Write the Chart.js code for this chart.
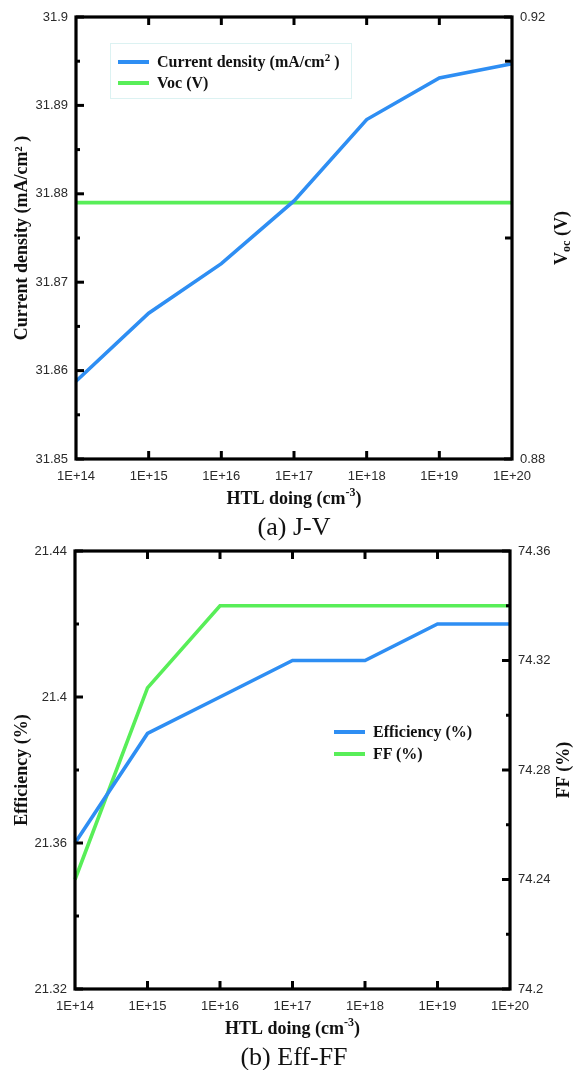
<!DOCTYPE html>
<html>
<head>
<meta charset="utf-8">
<script src="https://cdn.jsdelivr.net/npm/chart.js"></script>
<style>
  body { margin: 0; background: #fff; }
  #page { position: relative; width: 583px; height: 1070px; overflow: hidden; }
  canvas { position: absolute; left: 0; }
  .caption { position: absolute; width: 588px; text-align: center; font: 26px "Liberation Serif", serif; line-height: 30px; color: #111; }
  .legend { position: absolute; font: bold 16px "Liberation Serif", serif; color: #111; }
  .legend .row { position: absolute; left: 0; white-space: nowrap; height: 20px; line-height: 20px; }
  .legend .swatch { position: absolute; left: 0; top: 8px; width: 31px; height: 4px; }
  .legend .txt { position: absolute; left: 39px; top: 0; }
  .legend sup { font-size: 11px; line-height: 0; }
</style>
</head>
<body>
<div id="page">
  <canvas id="jvChart" style="top:0"></canvas>
  <div class="caption" style="top:512px; left:0">(a) J-V</div>
  <canvas id="effChart" style="top:530px"></canvas>
  <div class="caption" style="top:1042px; left:0">(b) Eff-FF</div>
  <div id="jvLegend" class="legend" style="left:110px; top:43px; width:242px; height:56px; border:1px solid #dcf2f2; box-sizing:border-box"></div>
  <div id="effLegend" class="legend" style="left:334px; top:722px; width:170px; height:50px"></div>
</div>
<script>
// x categories (HTL doping)
const dopingLabels = ['1E+14', '1E+15', '1E+16', '1E+17', '1E+18', '1E+19', '1E+20'];

// (a) J-V
const currentDensity = [31.8588, 31.8665, 31.8721, 31.8792, 31.8884, 31.8931, 31.8947];
const vocValues = [0.9032, 0.9032, 0.9032, 0.9032, 0.9032, 0.9032, 0.9032];
const jTickValues = [31.85, 31.855, 31.86, 31.865, 31.87, 31.875, 31.88, 31.885, 31.89, 31.895, 31.9];
const jTickLabels = ['31.85', '', '31.86', '', '31.87', '', '31.88', '', '31.89', '', '31.9'];
const vocTickValues = [0.88, 0.9, 0.916, 0.92];
const vocTickLabels = ['0.88', '', '', '0.92'];

// (b) Eff-FF
const efficiency = [21.36, 21.39, 21.40, 21.41, 21.41, 21.42, 21.42];
const fillFactor = [74.24, 74.31, 74.34, 74.34, 74.34, 74.34, 74.34];
const effTickValues = [21.32, 21.34, 21.36, 21.38, 21.4, 21.42, 21.44];
const effTickLabels = ['21.32', '', '21.36', '', '21.4', '', '21.44'];
const ffTickValues = [74.2, 74.22, 74.24, 74.26, 74.28, 74.3, 74.32, 74.34, 74.36];
const ffTickLabels = ['74.2', '', '74.24', '', '74.28', '', '74.32', '', '74.36'];

const BLUE = '#2e8ef3';
const GREEN = '#58ee58';

Chart.defaults.font.family = '"Liberation Sans", Arial, sans-serif';
Chart.defaults.font.size = 13;
Chart.defaults.color = '#2a2a2a';

// frame, inward ticks and axis titles
const framePlugin = {
  id: 'frame',
  afterDraw(chart, args, opts) {
    const { ctx, chartArea: a, scales } = chart;
    ctx.save();
    ctx.strokeStyle = '#000';
    ctx.lineWidth = 3;
    const line = (x1, y1, x2, y2) => { ctx.beginPath(); ctx.moveTo(x1, y1); ctx.lineTo(x2, y2); ctx.stroke(); };

    const xs = scales.x;
    xs.ticks.forEach((t, i) => {
      if (i === 0 || i === xs.ticks.length - 1) return;
      const px = xs.getPixelForTick(i);
      line(px, a.bottom, px, a.bottom - 8);
      line(px, a.top, px, a.top + 8);
    });
    scales.y.ticks.forEach(t => {
      const py = scales.y.getPixelForValue(t.value);
      line(a.left, py, a.left + (t.label ? 8 : 4), py);
    });
    scales.y1.ticks.forEach(t => {
      const py = scales.y1.getPixelForValue(t.value);
      line(a.right, py, a.right - (t.label ? 8 : opts.rightMinor), py);
    });
    ctx.lineWidth = 3.2;
    ctx.strokeRect(a.left, a.top, a.width, a.height);

    const cy = (a.top + a.bottom) / 2;
    ctx.fillStyle = '#111';
    ctx.textBaseline = 'middle';
    const big = 'bold 18px "Liberation Serif", serif';
    const small = 'bold 12px "Liberation Serif", serif';

    // x title with superscript
    const xt = opts.xTitle;
    ctx.font = big; const w1 = ctx.measureText(xt[0]).width;
    ctx.font = small; const w2 = ctx.measureText(xt[1]).width;
    ctx.font = big; const w3 = ctx.measureText(xt[2]).width;
    const sx = (a.left + a.right) / 2 - (w1 + w2 + w3) / 2;
    const ty = a.bottom + 40;
    ctx.textAlign = 'left';
    ctx.font = big; ctx.fillText(xt[0], sx, ty);
    ctx.font = small; ctx.fillText(xt[1], sx + w1, ty - 6);
    ctx.font = big; ctx.fillText(xt[2], sx + w1 + w2, ty);

    // left title
    ctx.save();
    ctx.translate(22, cy);
    ctx.rotate(-Math.PI / 2);
    ctx.textAlign = 'center';
    ctx.font = big;
    ctx.fillText(opts.leftTitle, 0, 0);
    ctx.restore();

    // right title (with optional subscript), reads bottom to top
    ctx.save();
    ctx.translate(a.right + opts.rightOffset, cy);
    ctx.rotate(-Math.PI / 2);
    ctx.textAlign = 'left';
    const rt = opts.rightTitle;
    ctx.font = big; const r1 = ctx.measureText(rt[0]).width;
    ctx.font = small; const r2 = ctx.measureText(rt[1]).width;
    ctx.font = big; const r3 = ctx.measureText(rt[2]).width;
    const rx = -(r1 + r2 + r3) / 2;
    ctx.font = big; ctx.fillText(rt[0], rx, 0);
    ctx.font = small; ctx.fillText(rt[1], rx + r1, 5);
    ctx.font = big; ctx.fillText(rt[2], rx + r1 + r2, 0);
    ctx.restore();

    ctx.restore();
  }
};

function makeChart(id, h, cfg) {
  const cv = document.getElementById(id);
  cv.width = 583; cv.height = h;
  cv.style.width = '583px'; cv.style.height = h + 'px';
  return new Chart(cv, {
    type: 'line',
    data: {
      labels: dopingLabels,
      datasets: [
        { label: cfg.names[0], data: cfg.left, yAxisID: 'y', borderColor: BLUE, backgroundColor: BLUE, borderWidth: 3.6, pointRadius: 0, tension: 0 },
        { label: cfg.names[1], data: cfg.right, yAxisID: 'y1', borderColor: GREEN, backgroundColor: GREEN, borderWidth: 3.6, pointRadius: 0, tension: 0 }
      ]
    },
    options: {
      responsive: false,
      animation: false,
      layout: { padding: { top: cfg.top, left: 0, right: 0, bottom: 0 } },
      plugins: {
        legend: { display: false },
        tooltip: { enabled: false },
        frame: cfg.frame
      },
      scales: {
        x: {
          type: 'category',
          offset: false,
          grid: { display: false, drawTicks: false },
          border: { display: false },
          ticks: { padding: 10, maxRotation: 0, autoSkip: false },
          afterFit: s => { s.height = cfg.xHeight; }
        },
        y: {
          position: 'left',
          min: cfg.leftTicks[0], max: cfg.leftTicks[cfg.leftTicks.length - 1],
          grid: { display: false, drawTicks: false },
          border: { display: false },
          afterBuildTicks: s => { s.ticks = cfg.leftTicks.map(v => ({ value: v })); },
          ticks: { padding: 8, callback: (v, i) => cfg.leftLabels[i] },
          afterFit: s => { s.width = cfg.leftWidth; }
        },
        y1: {
          position: 'right',
          min: cfg.rightTicks[0], max: cfg.rightTicks[cfg.rightTicks.length - 1],
          grid: { display: false, drawTicks: false },
          border: { display: false },
          afterBuildTicks: s => { s.ticks = cfg.rightTicks.map(v => ({ value: v })); },
          ticks: { padding: 8, callback: (v, i) => cfg.rightLabels[i] },
          afterFit: s => { s.width = cfg.rightWidth; }
        }
      }
    },
    plugins: [framePlugin]
  });
}

const jvChart = makeChart('jvChart', 515, {
  names: ['Current density (mA/cm<sup>2</sup> )', 'Voc (V)'],
  left: currentDensity, right: vocValues,
  leftTicks: jTickValues, leftLabels: jTickLabels,
  rightTicks: vocTickValues, rightLabels: vocTickLabels,
  top: 17, xHeight: 56, leftWidth: 76, rightWidth: 71,
  frame: { xTitle: ['HTL doing (cm', '-3', ')'], leftTitle: 'Current density (mA/cm\u00B2 )', rightTitle: ['V', 'oc', ' (V)'], rightOffset: 50, rightMinor: 7 }
});

const effChart = makeChart('effChart', 520, {
  names: ['Efficiency (%)', 'FF (%)'],
  left: efficiency, right: fillFactor,
  leftTicks: effTickValues, leftLabels: effTickLabels,
  rightTicks: ffTickValues, rightLabels: ffTickLabels,
  top: 21, xHeight: 61, leftWidth: 75, rightWidth: 73,
  frame: { xTitle: ['HTL doing (cm', '-3', ')'], leftTitle: 'Efficiency (%)', rightTitle: ['FF (%)', '', ''], rightOffset: 54, rightMinor: 4 }
});

function buildLegend(chart, el, rowTops, left) {
  chart.data.datasets.forEach((ds, i) => {
    const row = document.createElement('div');
    row.className = 'row';
    row.style.top = rowTops[i] + 'px';
    row.style.left = left + 'px';
    row.innerHTML = '<span class="swatch" style="background:' + ds.borderColor + '"></span><span class="txt">' + ds.label + '</span>';
    el.appendChild(row);
  });
}
buildLegend(jvChart, document.getElementById('jvLegend'), [8, 29], 7);
buildLegend(effChart, document.getElementById('effLegend'), [0, 22], 0);
</script>
</body>
</html>
